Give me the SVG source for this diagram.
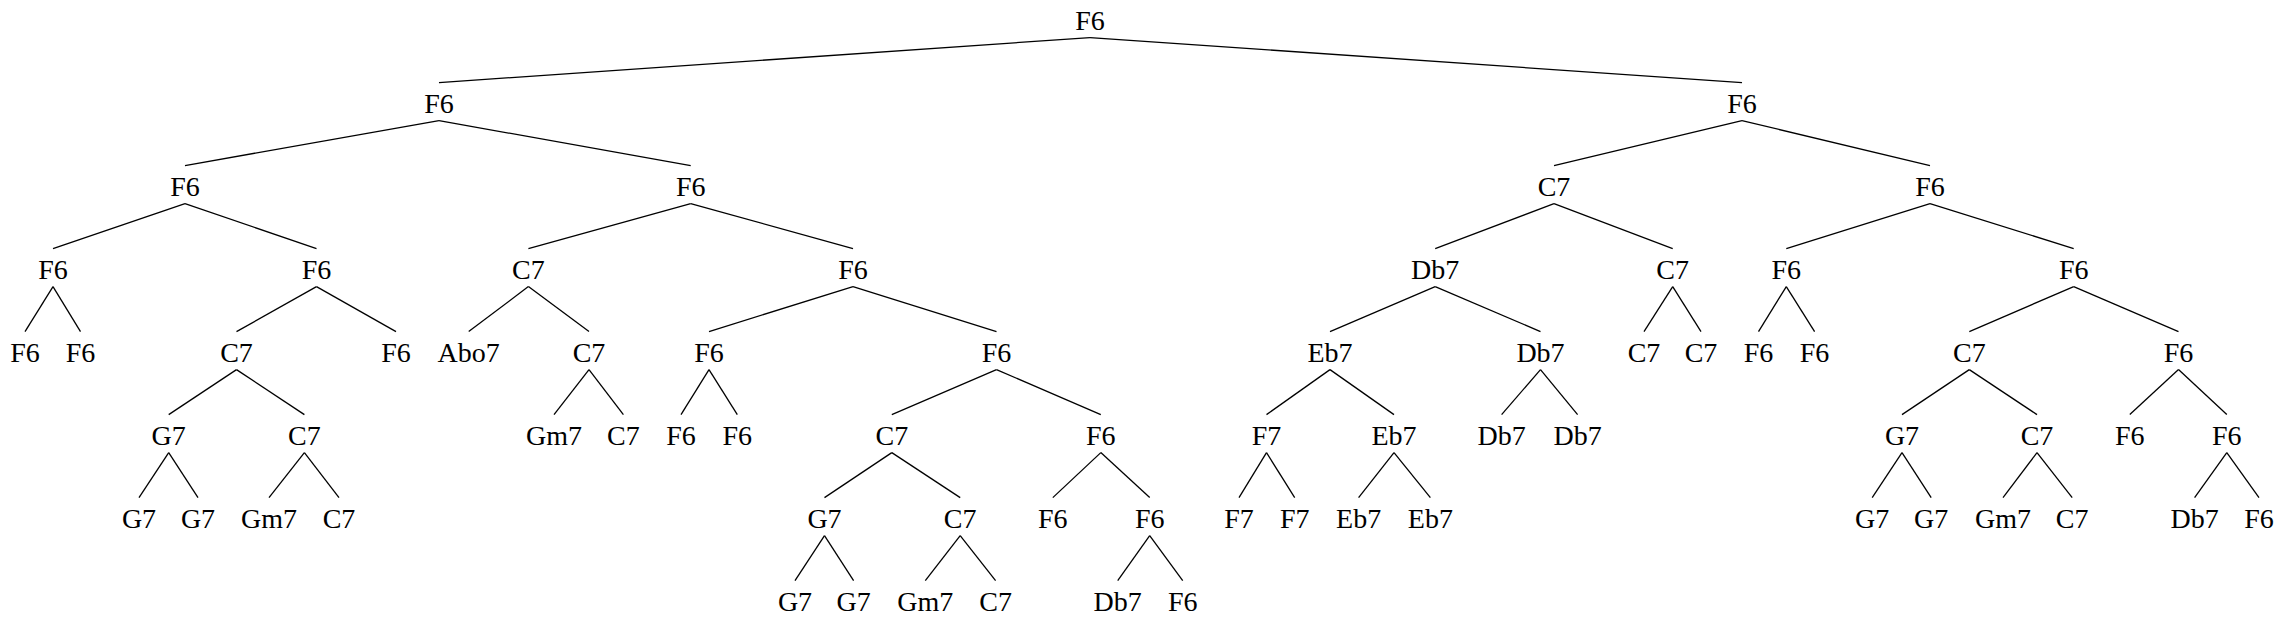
<svg xmlns="http://www.w3.org/2000/svg" width="2285" height="619" viewBox="0 0 2285 619">
<style>
text{font-family:"Liberation Serif","DejaVu Serif",serif;font-size:28px;fill:#000;text-anchor:middle}
#edges line{stroke:#000;stroke-width:1.3;fill:none}
</style>
<rect width="2285" height="619" fill="#fff"/>
<g id="edges">
<line x1="1090" y1="37.6" x2="439" y2="82.6"/>
<line x1="1090" y1="37.6" x2="1742" y2="82.6"/>
<line x1="439" y1="120.6" x2="185" y2="165.6"/>
<line x1="439" y1="120.6" x2="690.7" y2="165.6"/>
<line x1="185" y1="203.6" x2="53" y2="248.6"/>
<line x1="185" y1="203.6" x2="316.5" y2="248.6"/>
<line x1="53" y1="286.6" x2="25" y2="331.6"/>
<line x1="53" y1="286.6" x2="80.5" y2="331.6"/>
<line x1="316.5" y1="286.6" x2="236.5" y2="331.6"/>
<line x1="316.5" y1="286.6" x2="396" y2="331.6"/>
<line x1="236.5" y1="369.6" x2="168.7" y2="414.6"/>
<line x1="236.5" y1="369.6" x2="304.4" y2="414.6"/>
<line x1="168.7" y1="452.6" x2="139" y2="497.6"/>
<line x1="168.7" y1="452.6" x2="198" y2="497.6"/>
<line x1="304.4" y1="452.6" x2="269" y2="497.6"/>
<line x1="304.4" y1="452.6" x2="339" y2="497.6"/>
<line x1="690.7" y1="203.6" x2="528.4" y2="248.6"/>
<line x1="690.7" y1="203.6" x2="853" y2="248.6"/>
<line x1="528.4" y1="286.6" x2="468.7" y2="331.6"/>
<line x1="528.4" y1="286.6" x2="589" y2="331.6"/>
<line x1="589" y1="369.6" x2="554" y2="414.6"/>
<line x1="589" y1="369.6" x2="623.4" y2="414.6"/>
<line x1="853" y1="286.6" x2="709" y2="331.6"/>
<line x1="853" y1="286.6" x2="996.5" y2="331.6"/>
<line x1="709" y1="369.6" x2="681" y2="414.6"/>
<line x1="709" y1="369.6" x2="737.3" y2="414.6"/>
<line x1="996.5" y1="369.6" x2="891.8" y2="414.6"/>
<line x1="996.5" y1="369.6" x2="1100.8" y2="414.6"/>
<line x1="891.8" y1="452.6" x2="824.5" y2="497.6"/>
<line x1="891.8" y1="452.6" x2="960.2" y2="497.6"/>
<line x1="824.5" y1="535.6" x2="795" y2="580.6"/>
<line x1="824.5" y1="535.6" x2="853.6" y2="580.6"/>
<line x1="960.2" y1="535.6" x2="925.3" y2="580.6"/>
<line x1="960.2" y1="535.6" x2="995.6" y2="580.6"/>
<line x1="1100.8" y1="452.6" x2="1052.8" y2="497.6"/>
<line x1="1100.8" y1="452.6" x2="1149.7" y2="497.6"/>
<line x1="1149.7" y1="535.6" x2="1117.7" y2="580.6"/>
<line x1="1149.7" y1="535.6" x2="1182.7" y2="580.6"/>
<line x1="1742" y1="120.6" x2="1554" y2="165.6"/>
<line x1="1742" y1="120.6" x2="1930" y2="165.6"/>
<line x1="1554" y1="203.6" x2="1435.2" y2="248.6"/>
<line x1="1554" y1="203.6" x2="1672.7" y2="248.6"/>
<line x1="1435.2" y1="286.6" x2="1330" y2="331.6"/>
<line x1="1435.2" y1="286.6" x2="1540.5" y2="331.6"/>
<line x1="1330" y1="369.6" x2="1266.5" y2="414.6"/>
<line x1="1330" y1="369.6" x2="1394" y2="414.6"/>
<line x1="1266.5" y1="452.6" x2="1239" y2="497.6"/>
<line x1="1266.5" y1="452.6" x2="1294.7" y2="497.6"/>
<line x1="1394" y1="452.6" x2="1358.6" y2="497.6"/>
<line x1="1394" y1="452.6" x2="1430.4" y2="497.6"/>
<line x1="1540.5" y1="369.6" x2="1501.6" y2="414.6"/>
<line x1="1540.5" y1="369.6" x2="1577.6" y2="414.6"/>
<line x1="1672.7" y1="286.6" x2="1644" y2="331.6"/>
<line x1="1672.7" y1="286.6" x2="1701" y2="331.6"/>
<line x1="1930" y1="203.6" x2="1786.3" y2="248.6"/>
<line x1="1930" y1="203.6" x2="2073.7" y2="248.6"/>
<line x1="1786.3" y1="286.6" x2="1758.5" y2="331.6"/>
<line x1="1786.3" y1="286.6" x2="1814.6" y2="331.6"/>
<line x1="2073.7" y1="286.6" x2="1969.3" y2="331.6"/>
<line x1="2073.7" y1="286.6" x2="2178.5" y2="331.6"/>
<line x1="1969.3" y1="369.6" x2="1902" y2="414.6"/>
<line x1="1969.3" y1="369.6" x2="2037" y2="414.6"/>
<line x1="1902" y1="452.6" x2="1872.2" y2="497.6"/>
<line x1="1902" y1="452.6" x2="1931.2" y2="497.6"/>
<line x1="2037" y1="452.6" x2="2003" y2="497.6"/>
<line x1="2037" y1="452.6" x2="2072.2" y2="497.6"/>
<line x1="2178.5" y1="369.6" x2="2129.8" y2="414.6"/>
<line x1="2178.5" y1="369.6" x2="2226.8" y2="414.6"/>
<line x1="2226.8" y1="452.6" x2="2194.6" y2="497.6"/>
<line x1="2226.8" y1="452.6" x2="2259" y2="497.6"/>
</g>
<g id="n0"><text x="1090" y="29.6">F6</text></g>
<g id="n1"><text x="439" y="112.6">F6</text></g>
<g id="n2"><text x="185" y="195.6">F6</text></g>
<g id="n3"><text x="53" y="278.6">F6</text></g>
<g id="n4"><text x="25" y="361.6">F6</text></g>
<g id="n5"><text x="80.5" y="361.6">F6</text></g>
<g id="n6"><text x="316.5" y="278.6">F6</text></g>
<g id="n7"><text x="236.5" y="361.6">C7</text></g>
<g id="n8"><text x="168.7" y="444.6">G7</text></g>
<g id="n9"><text x="139" y="527.6">G7</text></g>
<g id="n10"><text x="198" y="527.6">G7</text></g>
<g id="n11"><text x="304.4" y="444.6">C7</text></g>
<g id="n12"><text x="269" y="527.6">Gm7</text></g>
<g id="n13"><text x="339" y="527.6">C7</text></g>
<g id="n14"><text x="396" y="361.6">F6</text></g>
<g id="n15"><text x="690.7" y="195.6">F6</text></g>
<g id="n16"><text x="528.4" y="278.6">C7</text></g>
<g id="n17"><text x="468.7" y="361.6">Abo7</text></g>
<g id="n18"><text x="589" y="361.6">C7</text></g>
<g id="n19"><text x="554" y="444.6">Gm7</text></g>
<g id="n20"><text x="623.4" y="444.6">C7</text></g>
<g id="n21"><text x="853" y="278.6">F6</text></g>
<g id="n22"><text x="709" y="361.6">F6</text></g>
<g id="n23"><text x="681" y="444.6">F6</text></g>
<g id="n24"><text x="737.3" y="444.6">F6</text></g>
<g id="n25"><text x="996.5" y="361.6">F6</text></g>
<g id="n26"><text x="891.8" y="444.6">C7</text></g>
<g id="n27"><text x="824.5" y="527.6">G7</text></g>
<g id="n28"><text x="795" y="610.6">G7</text></g>
<g id="n29"><text x="853.6" y="610.6">G7</text></g>
<g id="n30"><text x="960.2" y="527.6">C7</text></g>
<g id="n31"><text x="925.3" y="610.6">Gm7</text></g>
<g id="n32"><text x="995.6" y="610.6">C7</text></g>
<g id="n33"><text x="1100.8" y="444.6">F6</text></g>
<g id="n34"><text x="1052.8" y="527.6">F6</text></g>
<g id="n35"><text x="1149.7" y="527.6">F6</text></g>
<g id="n36"><text x="1117.7" y="610.6">Db7</text></g>
<g id="n37"><text x="1182.7" y="610.6">F6</text></g>
<g id="n38"><text x="1742" y="112.6">F6</text></g>
<g id="n39"><text x="1554" y="195.6">C7</text></g>
<g id="n40"><text x="1435.2" y="278.6">Db7</text></g>
<g id="n41"><text x="1330" y="361.6">Eb7</text></g>
<g id="n42"><text x="1266.5" y="444.6">F7</text></g>
<g id="n43"><text x="1239" y="527.6">F7</text></g>
<g id="n44"><text x="1294.7" y="527.6">F7</text></g>
<g id="n45"><text x="1394" y="444.6">Eb7</text></g>
<g id="n46"><text x="1358.6" y="527.6">Eb7</text></g>
<g id="n47"><text x="1430.4" y="527.6">Eb7</text></g>
<g id="n48"><text x="1540.5" y="361.6">Db7</text></g>
<g id="n49"><text x="1501.6" y="444.6">Db7</text></g>
<g id="n50"><text x="1577.6" y="444.6">Db7</text></g>
<g id="n51"><text x="1672.7" y="278.6">C7</text></g>
<g id="n52"><text x="1644" y="361.6">C7</text></g>
<g id="n53"><text x="1701" y="361.6">C7</text></g>
<g id="n54"><text x="1930" y="195.6">F6</text></g>
<g id="n55"><text x="1786.3" y="278.6">F6</text></g>
<g id="n56"><text x="1758.5" y="361.6">F6</text></g>
<g id="n57"><text x="1814.6" y="361.6">F6</text></g>
<g id="n58"><text x="2073.7" y="278.6">F6</text></g>
<g id="n59"><text x="1969.3" y="361.6">C7</text></g>
<g id="n60"><text x="1902" y="444.6">G7</text></g>
<g id="n61"><text x="1872.2" y="527.6">G7</text></g>
<g id="n62"><text x="1931.2" y="527.6">G7</text></g>
<g id="n63"><text x="2037" y="444.6">C7</text></g>
<g id="n64"><text x="2003" y="527.6">Gm7</text></g>
<g id="n65"><text x="2072.2" y="527.6">C7</text></g>
<g id="n66"><text x="2178.5" y="361.6">F6</text></g>
<g id="n67"><text x="2129.8" y="444.6">F6</text></g>
<g id="n68"><text x="2226.8" y="444.6">F6</text></g>
<g id="n69"><text x="2194.6" y="527.6">Db7</text></g>
<g id="n70"><text x="2259" y="527.6">F6</text></g>
</svg>
